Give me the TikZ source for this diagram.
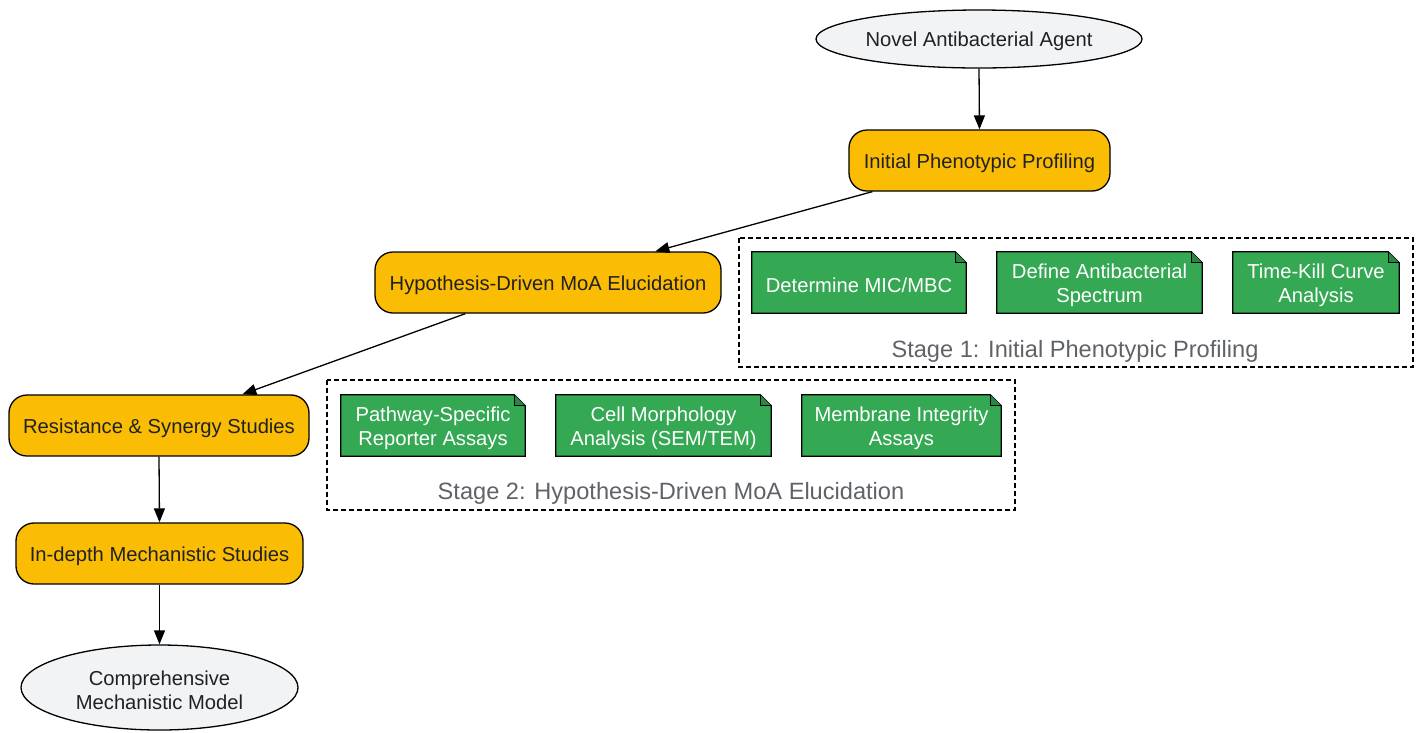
\documentclass[tikz,border=0pt]{standalone}
\usepackage{fontspec}
\setmainfont{Liberation Sans}
\usetikzlibrary{arrows.meta,shapes.geometric,backgrounds,calc}
\definecolor{orangefill}{HTML}{FBBC04}
\definecolor{greenfill}{HTML}{34A853}
\definecolor{greyfill}{HTML}{F1F3F4}
\definecolor{textdark}{HTML}{202124}
\definecolor{labelgrey}{HTML}{5F6368}
\newcommand{\tallstrut}{\rule{0pt}{19.7pt}}
\tikzset{
  base/.style={font=\fontsize{20.2}{24}\selectfont, align=center, inner sep=0pt, text=textdark},
  ellnode/.style={base, ellipse, draw=black, line width=1.3pt, fill=greyfill},
  procbox/.style={base, rectangle, rounded corners=18pt, draw=black, line width=1.3pt, fill=orangefill},
  notebox/.style={base, rectangle, text=white},
  cluster/.style={draw=black, line width=1.2pt, dash pattern=on 5pt off 3pt},
  clusterlabel/.style={font=\fontsize{23.6}{28}\selectfont, text=labelgrey, inner sep=0pt},
  edge/.style={-{Triangle[length=14pt,width=11pt]}, line width=1.3pt, draw=black},
}
\newcommand{\notefold}[1]{%
  \fill[greenfill,draw=black,line width=1.3pt] (#1.south west) -- (#1.north west) -- ([xshift=-11pt]#1.north east) -- ([yshift=-11pt]#1.north east) -- (#1.south east) -- cycle;
  \draw[line width=1.3pt,fill=greenfill!80!black] ([xshift=-11pt]#1.north east) -- ([xshift=-11pt,yshift=-11pt]#1.north east) -- ([yshift=-11pt]#1.north east);
}
\begin{document}
\begin{tikzpicture}[x=1pt,y=-1pt]
\useasboundingbox (0,0) rectangle (1420,732);
% clusters
\draw[cluster] (739,238) rectangle (1413,367);
\node[clusterlabel] (lab1) at (1075,351.5) {Stage 1: Initial Phenotypic Profiling};
\draw[cluster] (327,380) rectangle (1015,510);
\node[clusterlabel] (lab2) at (671,493.5) {Stage 2: Hypothesis-Driven MoA Elucidation};
% main nodes
\node[ellnode, minimum width=326pt, minimum height=58pt] (novel) at (979,39) {\tallstrut Novel Antibacterial Agent};
\node[procbox, minimum width=261pt, minimum height=61pt] (init) at (979.5,160.5) {\tallstrut Initial Phenotypic Profiling};
\node[procbox, minimum width=346pt, minimum height=61pt] (hyp) at (548,282.5) {\tallstrut Hypothesis-Driven MoA Elucidation};
\node[procbox, minimum width=300pt, minimum height=61pt] (res) at (159,425.5) {\tallstrut Resistance \& Synergy Studies};
\node[procbox, minimum width=287pt, minimum height=61pt] (indepth) at (159.5,553.5) {\tallstrut In-depth Mechanistic Studies};
\node[ellnode, minimum width=277pt, minimum height=85pt] (model) at (159.5,687.5) {\tallstrut Comprehensive\\Mechanistic Model};
% notes
\node[notebox, minimum width=214pt, minimum height=61pt] (mic) at (859,282.5) {\tallstrut Determine MIC/MBC};
\node[notebox, minimum width=205pt, minimum height=61pt] (spec) at (1099.5,282.5) {\tallstrut Define Antibacterial\\Spectrum};
\node[notebox, minimum width=166pt, minimum height=61pt] (tk) at (1316,282.5) {\tallstrut Time-Kill Curve\\Analysis};
\node[notebox, minimum width=184pt, minimum height=61pt] (path) at (433,425.5) {\tallstrut Pathway-Specific\\Reporter Assays};
\node[notebox, minimum width=215pt, minimum height=61pt] (cell) at (663.5,425.5) {\tallstrut Cell Morphology\\Analysis (SEM/TEM)};
\node[notebox, minimum width=199pt, minimum height=61pt] (mem) at (901.5,425.5) {\tallstrut Membrane Integrity\\Assays};
\begin{pgfonlayer}{background}
\notefold{mic}
\notefold{spec}
\notefold{tk}
\notefold{path}
\notefold{cell}
\notefold{mem}
\end{pgfonlayer}
% edges
\draw[edge] (novel.south) -- (init.north);
\draw[edge] ([xshift=24pt]init.south west) -- ([xshift=281pt]hyp.north west);
\draw[edge] ([xshift=91pt]hyp.south west) -- ([xshift=234pt]res.north west);
\draw[edge] (res.south) -- (indepth.north);
\draw[edge] (indepth.south) -- (model.north);
\end{tikzpicture}
\end{document}
